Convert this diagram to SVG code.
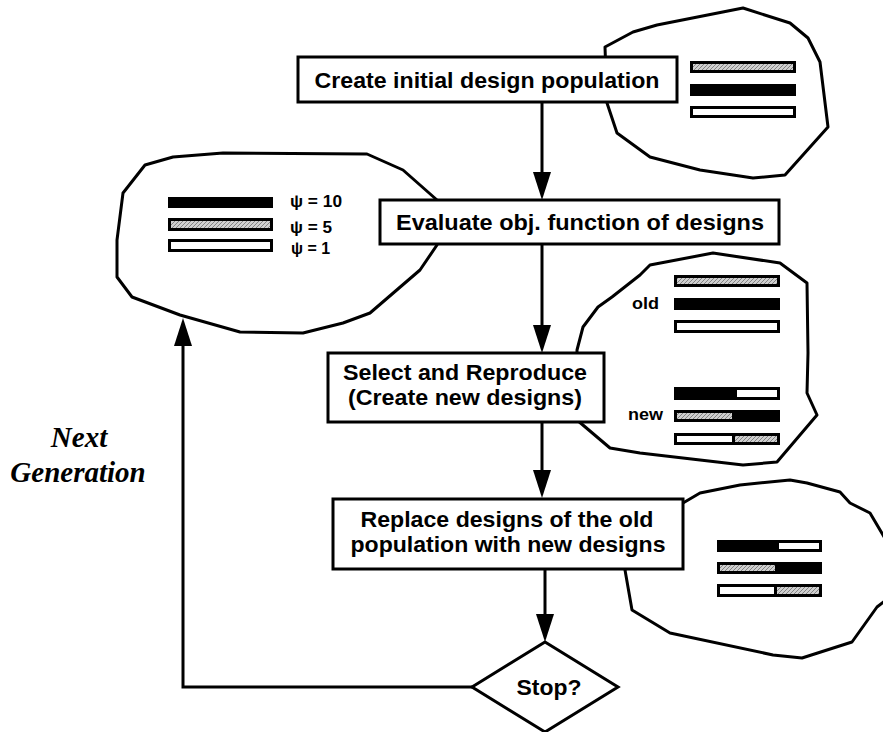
<svg xmlns="http://www.w3.org/2000/svg" width="883" height="732" viewBox="0 0 883 732">
<style>
.blob{fill:#fff;stroke:#000;stroke-width:3;stroke-linejoin:round}
.box{fill:#fff;stroke:#000;stroke-width:3}
.conn{fill:none;stroke:#000;stroke-width:3}
.t{font-family:"Liberation Sans",Arial,sans-serif;font-weight:bold;font-size:22px;fill:#000;text-anchor:middle}
.s{font-family:"Liberation Sans",Arial,sans-serif;font-weight:bold;font-size:17px;fill:#000}
.ng{font-family:"Liberation Serif","Times New Roman",serif;font-weight:bold;font-style:italic;font-size:29px;fill:#000;text-anchor:middle}
.bk{fill:#000}
.wh{fill:#fff}
.gr{fill:url(#hatch)}
</style>
<defs>
<pattern id="hatch" width="4" height="4" patternUnits="userSpaceOnUse">
<rect width="4" height="4" fill="#cfcfcf"/>
<path d="M0,4 L4,0 M-1,1 L1,-1 M3,5 L5,3" stroke="#7a7a7a" stroke-width="0.9"/>
</pattern>
<marker id="ah" markerWidth="28" markerHeight="18" refX="18" refY="9" orient="auto" markerUnits="userSpaceOnUse" viewBox="0 0 28 18">
<path d="M0,0 L28,9 L0,18 Z" fill="#000"/>
</marker>
</defs>
<rect width="883" height="732" fill="#fff"/>

<g id="blob-initial">
<path class="blob" d="M743,8 L790,23 L808,38 L820,62 L828,127 L785,175 L753,178 L700,170 L650,157 L617,133 L607,103 L605,47 L633,32 L657,25 Z"/>
<rect class="bk" x="690" y="61" width="106" height="12"/><rect class="gr" x="693" y="64" width="100" height="6"/>
<rect class="bk" x="690" y="84" width="106" height="12"/>
<rect class="bk" x="690" y="106" width="106" height="12"/><rect class="wh" x="693" y="109" width="100" height="6"/>
</g>

<g id="blob-fitness">
<path class="blob" d="M145,165 L173,157 L223,153 L367,154 L403,170 L437,200 L437,245 L420,270 L370,313 L343,323 L303,333 L240,332 L180,315 L132,297 L117,277 L117,240 L123,193 Z"/>
<rect class="bk" x="168" y="197" width="105" height="11"/>
<rect class="bk" x="168" y="218" width="105" height="13"/><rect class="gr" x="171" y="221" width="99" height="7"/>
<rect class="bk" x="168" y="239" width="105" height="13"/><rect class="wh" x="171" y="242" width="99" height="7"/>
<text class="s" x="290" y="207" textLength="52" lengthAdjust="spacingAndGlyphs">ψ = 10</text>
<text class="s" x="290" y="233" textLength="42" lengthAdjust="spacingAndGlyphs">ψ = 5</text>
<text class="s" x="291" y="254" textLength="39" lengthAdjust="spacingAndGlyphs">ψ = 1</text>
</g>

<g id="blob-reproduce">
<path class="blob" d="M713,253 L780,263 L807,283 L808,353 L807,393 L817,415 L777,462 L743,465 L640,453 L610,448 L577,420 L577,350 L583,327 L598,307 L612,297 L640,275 L650,265 Z"/>
<rect class="bk" x="674" y="275" width="106" height="12"/><rect class="gr" x="677" y="278" width="100" height="6"/>
<rect class="bk" x="674" y="298" width="106" height="12"/>
<rect class="bk" x="674" y="320" width="106" height="13"/><rect class="wh" x="677" y="323" width="100" height="7"/>
<rect class="bk" x="674" y="387" width="106" height="13"/><rect class="wh" x="737" y="390" width="40" height="7"/>
<rect class="bk" x="674" y="410" width="106" height="12"/><rect class="gr" x="677" y="413" width="55" height="6"/>
<rect class="bk" x="674" y="433" width="106" height="12"/><rect class="wh" x="677" y="436" width="55" height="6"/><rect class="gr" x="735" y="436" width="42" height="6"/>
<text class="s" x="632" y="309" font-size="18" textLength="27" lengthAdjust="spacingAndGlyphs">old</text>
<text class="s" x="628" y="420" font-size="18" textLength="35" lengthAdjust="spacingAndGlyphs">new</text>
</g>

<g id="blob-replaced">
<path class="blob" d="M683,503 L700,493 L740,485 L790,480 L807,483 L840,492 L850,503 L870,513 L886,540 L886,600 L877,607 L852,642 L802,658 L773,655 L670,633 L632,610 L625,570 Z"/>
<rect class="bk" x="717" y="540" width="105" height="12"/><rect class="wh" x="779" y="543" width="40" height="6"/>
<rect class="bk" x="717" y="562" width="105" height="12"/><rect class="gr" x="720" y="565" width="55" height="6"/>
<rect class="bk" x="717" y="584" width="105" height="13"/><rect class="wh" x="720" y="587" width="54" height="7"/><rect class="gr" x="777" y="587" width="42" height="7"/>
</g>

<g id="connectors">
<line class="conn" x1="542" y1="102" x2="542" y2="190" marker-end="url(#ah)"/>
<line class="conn" x1="542" y1="244" x2="542" y2="343" marker-end="url(#ah)"/>
<line class="conn" x1="542" y1="422" x2="542" y2="488" marker-end="url(#ah)"/>
<line class="conn" x1="545" y1="569" x2="545" y2="632" marker-end="url(#ah)"/>
<polyline class="conn" points="472,687 183,687 183,328" marker-end="url(#ah)"/>
</g>

<g id="node-create">
<rect class="box" x="298" y="57" width="379" height="45"/>
<text class="t" x="487" y="88" textLength="345" lengthAdjust="spacingAndGlyphs">Create initial design population</text>
</g>

<g id="node-evaluate">
<rect class="box" x="380" y="200" width="399" height="44"/>
<text class="t" x="580" y="230" textLength="368" lengthAdjust="spacingAndGlyphs">Evaluate obj. function of designs</text>
</g>

<g id="node-select">
<rect class="box" x="328" y="353" width="276" height="69"/>
<text class="t" x="465" y="380" textLength="244" lengthAdjust="spacingAndGlyphs">Select and Reproduce</text>
<text class="t" x="465" y="405" textLength="234" lengthAdjust="spacingAndGlyphs">(Create new designs)</text>
</g>

<g id="node-replace">
<rect class="box" x="333" y="499" width="350" height="70"/>
<text class="t" x="507" y="527" textLength="293" lengthAdjust="spacingAndGlyphs">Replace designs of the old</text>
<text class="t" x="508" y="552" textLength="315" lengthAdjust="spacingAndGlyphs">population with new designs</text>
</g>

<g id="node-stop">
<polygon class="box" points="472,687 545,642 618,687 545,732"/>
<text class="t" x="549" y="695" textLength="65" lengthAdjust="spacingAndGlyphs">Stop?</text>
</g>

<g id="label-next">
<text class="ng" x="79" y="447">Next</text>
<text class="ng" x="78" y="482">Generation</text>
</g>
</svg>
